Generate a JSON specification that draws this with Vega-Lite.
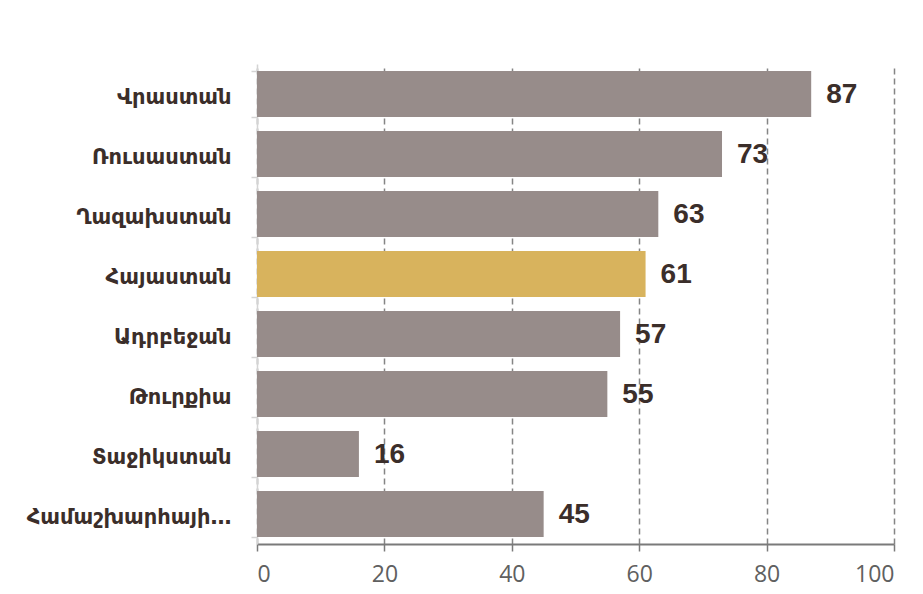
{
  "$schema": "https://vega.github.io/schema/vega-lite/v6.json",
  "width": 637,
  "height": 480,
  "autosize": "none",
  "padding": {"left": 257, "top": 64, "right": 29, "bottom": 50},
  "background": "white",
  "data": {"values": [
    {"country": "Վրաստան", "value": 87, "highlight": "no"},
    {"country": "Ռուսաստան", "value": 73, "highlight": "no"},
    {"country": "Ղազախստան", "value": 63, "highlight": "no"},
    {"country": "Հայաստան", "value": 61, "highlight": "yes"},
    {"country": "Ադրբեջան", "value": 57, "highlight": "no"},
    {"country": "Թուրքիա", "value": 55, "highlight": "no"},
    {"country": "Տաջիկստան", "value": 16, "highlight": "no"},
    {"country": "Համաշխարհային միջին", "value": 45, "highlight": "no"}
  ]},
  "config": {"view": {"stroke": null}},
  "encoding": {
    "y": {
      "field": "country", "type": "nominal", "sort": null,
      "scale": {"paddingInner": 0.23, "paddingOuter": 0.115},
      "axis": {
        "title": null, "domainColor": "#d4d4d4", "domainWidth": 1.5,
        "tickColor": "#d4d4d4", "tickSize": 6, "tickWidth": 1.5, "tickBand": "extent",
        "labelFont": "DejaVu Sans", "labelFontWeight": "bold", "labelFontSize": 21,
        "labelColor": "#3b2e2a", "labelPadding": 20, "labelLimit": 212, "labelOffset": 3
      }
    },
    "x": {
      "field": "value", "type": "quantitative",
      "scale": {"domain": [0, 100]},
      "axis": {
        "title": null, "values": [0, 20, 40, 60, 80, 100],
        "grid": true, "gridDash": [6, 4], "gridColor": "#858585", "gridWidth": 1.5,
        "domainColor": "#7a7a7a", "domainWidth": 2,
        "tickColor": "#7a7a7a", "tickSize": 7, "tickWidth": 1.5,
        "labelFont": "Open Sans", "labelFontSize": 23, "labelColor": "#606060",
        "labelPadding": 12
      }
    }
  },
  "layer": [
    {
      "mark": {"type": "bar"},
      "encoding": {
        "color": {
          "field": "highlight", "type": "nominal", "legend": null,
          "scale": {"domain": ["no", "yes"], "range": ["#978c8a", "#d8b35d"]}
        }
      }
    },
    {
      "mark": {"type": "text", "align": "left", "baseline": "middle", "dx": 15, "dy": 1, "font": "Liberation Sans", "fontWeight": "bold", "fontSize": 28, "color": "#3b2e2a"},
      "encoding": {"text": {"field": "value", "type": "quantitative"}}
    }
  ]
}
